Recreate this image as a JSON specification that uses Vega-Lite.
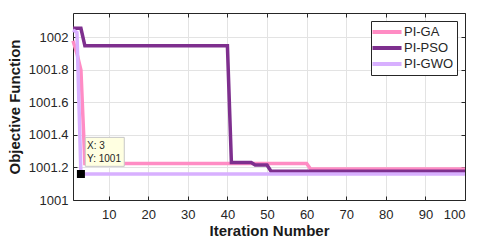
{
  "$schema": "https://vega.github.io/schema/vega-lite/v6.json",
  "width": 392,
  "height": 187,
  "autosize": {"type": "none"},
  "padding": {"left": 73, "top": 13, "right": 15, "bottom": 46},
  "background": "white",
  "config": {
    "font": "Liberation Sans",
    "view": {"stroke": null},
    "axis": {
      "labelFont": "Liberation Sans",
      "labelFontSize": 13,
      "labelColor": "#262626",
      "titleFont": "Liberation Sans",
      "titleFontSize": 15,
      "titleFontWeight": "bold",
      "titleColor": "#1a1a1a",
      "domainColor": "#262626",
      "domainWidth": 1,
      "tickColor": "#262626",
      "tickSize": -4,
      "gridColor": "#e3e3e3",
      "gridWidth": 1
    }
  },
  "datasets": {
    "series": [
      {"it": 1, "val": 1001.98, "alg": "PI-GA"},
      {"it": 2, "val": 1001.90, "alg": "PI-GA"},
      {"it": 3, "val": 1001.80, "alg": "PI-GA"},
      {"it": 4, "val": 1001.225, "alg": "PI-GA"},
      {"it": 60, "val": 1001.225, "alg": "PI-GA"},
      {"it": 61, "val": 1001.19, "alg": "PI-GA"},
      {"it": 100, "val": 1001.19, "alg": "PI-GA"},
      {"it": 1, "val": 1002.056, "alg": "PI-PSO"},
      {"it": 3, "val": 1002.056, "alg": "PI-PSO"},
      {"it": 4, "val": 1001.948, "alg": "PI-PSO"},
      {"it": 40, "val": 1001.948, "alg": "PI-PSO"},
      {"it": 41, "val": 1001.23, "alg": "PI-PSO"},
      {"it": 46, "val": 1001.23, "alg": "PI-PSO"},
      {"it": 47, "val": 1001.215, "alg": "PI-PSO"},
      {"it": 50, "val": 1001.215, "alg": "PI-PSO"},
      {"it": 51, "val": 1001.177, "alg": "PI-PSO"},
      {"it": 100, "val": 1001.177, "alg": "PI-PSO"},
      {"it": 1, "val": 1002.045, "alg": "PI-GWO"},
      {"it": 2, "val": 1002.03, "alg": "PI-GWO"},
      {"it": 3, "val": 1001.16, "alg": "PI-GWO"},
      {"it": 100, "val": 1001.16, "alg": "PI-GWO"}
    ],
    "tipbox": [{"x": 4.1, "x2": 13.95, "y": 1001.385, "y2": 1001.207}],
    "tiptext": [
      {"x": 4.55, "y": 1001.335, "t": "X: 3"},
      {"x": 4.55, "y": 1001.254, "t": "Y: 1001"}
    ],
    "marker": [{"x": 3, "y": 1001.16}]
  },
  "layer": [
    {
      "data": {"name": "series"},
      "mark": {"type": "line", "strokeWidth": 3.5, "interpolate": "linear"},
      "encoding": {
        "x": {
          "field": "it", "type": "quantitative",
          "scale": {"domain": [1, 100], "nice": false, "zero": false},
          "axis": {
            "orient": "bottom",
            "values": [10, 20, 30, 40, 50, 60, 70, 80, 90, 100],
            "title": "Iteration Number",
            "labelPadding": 12,
            "titlePadding": 2,
            "grid": true
          }
        },
        "y": {
          "field": "val", "type": "quantitative",
          "scale": {"domain": [1001, 1002.15], "nice": false, "zero": false},
          "axis": {
            "orient": "left",
            "values": [1001, 1001.2, 1001.4, 1001.6, 1001.8, 1002],
            "format": ".1~f",
            "title": "Objective Function",
            "labelPadding": 9,
            "titlePadding": 6,
            "grid": true
          }
        },
        "color": {
          "field": "alg", "type": "nominal",
          "scale": {
            "domain": ["PI-GA", "PI-PSO", "PI-GWO"],
            "range": ["#ff8cc4", "#7e2f8e", "#d8b0ff"]
          },
          "legend": {
            "title": null,
            "orient": "top-right",
            "offset": 8,
            "padding": 3,
            "strokeColor": "#262626",
            "fillColor": "white",
            "symbolType": "M-2.42,0H2.42",
            "symbolSize": 144,
            "symbolStrokeWidth": 4,
            "symbolOffset": 5,
            "rowPadding": 0,
            "labelOffset": 9,
            "labelFontSize": 13,
            "labelColor": "#262626",
            "labelFont": "Liberation Sans"
          }
        }
      }
    },
    {
      "data": {"name": "marker"},
      "mark": {"type": "square", "filled": true, "color": "black", "size": 64, "opacity": 1},
      "encoding": {
        "x": {"field": "x", "type": "quantitative",
          "axis": {"orient": "top", "labels": false, "title": null, "grid": false, "values": [10, 20, 30, 40, 50, 60, 70, 80, 90, 100]}},
        "y": {"field": "y", "type": "quantitative",
          "axis": {"orient": "right", "labels": false, "title": null, "grid": false, "values": [1001, 1001.2, 1001.4, 1001.6, 1001.8, 1002]}}
      }
    },
    {
      "data": {"name": "tipbox"},
      "mark": {"type": "rect", "fill": "#ffffe1", "stroke": "#c8c8c8", "strokeWidth": 1},
      "encoding": {
        "x": {"field": "x", "type": "quantitative", "axis": null},
        "x2": {"field": "x2"},
        "y": {"field": "y", "type": "quantitative", "axis": null},
        "y2": {"field": "y2"}
      }
    },
    {
      "data": {"name": "tiptext"},
      "mark": {"type": "text", "align": "left", "baseline": "middle", "fontSize": 10, "color": "#262626", "font": "Liberation Sans"},
      "encoding": {
        "x": {"field": "x", "type": "quantitative", "axis": null},
        "y": {"field": "y", "type": "quantitative", "axis": null},
        "text": {"field": "t"}
      }
    }
  ],
  "resolve": {"axis": {"x": "independent", "y": "independent"}}
}
